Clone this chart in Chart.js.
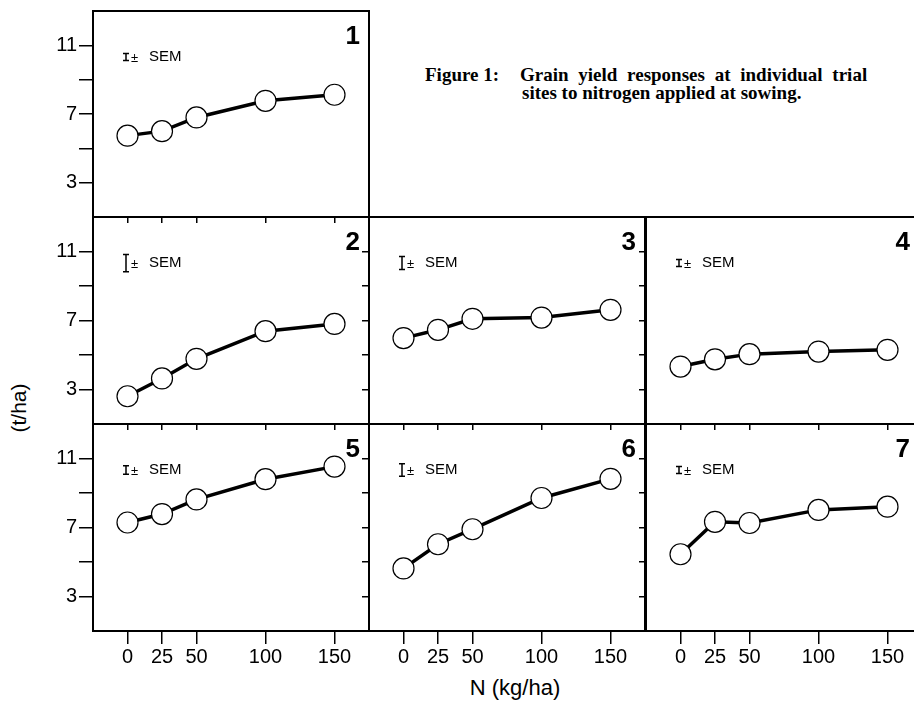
<!DOCTYPE html>
<html>
<head>
<meta charset="utf-8">
<script src="https://cdn.jsdelivr.net/npm/chart.js@4.4.0/dist/chart.umd.min.js"></script>
<style>
  html { margin: 0; padding: 0; background: #fff; overflow: hidden; width: 914px; height: 701px; }
  body { margin: 0; padding: 0; width: 960px; height: 701px; position: relative; font-family: "Liberation Sans", Arial, sans-serif; }
  canvas { position: absolute; }
  .txt { position: absolute; color: #000; white-space: nowrap; }
  .cap { font-family: "Liberation Serif", "Times New Roman", serif; font-weight: bold; font-size: 19px; line-height: 18px; }
</style>
</head>
<body>

<div class="txt cap" style="left:425px; top:66px;">Figure 1:</div>
<div class="txt cap" style="left:520px; top:66px; word-spacing:5px;">Grain yield responses at individual trial</div>
<div class="txt cap" style="left:522px; top:84px;">sites to nitrogen applied at sowing.</div>
<div class="txt" style="left:19px; top:408px; font-size:21px; transform:translate(-50%,-50%) rotate(-90deg);">(t/ha)</div>
<div class="txt" style="left:515px; top:688px; font-size:22px; transform:translate(-50%,-50%);">N (kg/ha)</div>

<script>
/* =========================
   DATA
========================= */

const nRates = [0, 25, 50, 100, 150];

const site1 = [5.74, 6.0, 6.8, 7.77, 8.12];
const site2 = [2.61, 3.64, 4.78, 6.38, 6.8];
const site3 = [5.98, 6.46, 7.1, 7.17, 7.62];
const site4 = [4.33, 4.75, 5.05, 5.2, 5.3];
const site5 = [7.29, 7.78, 8.63, 9.8, 10.53];
const site6 = [4.63, 6.03, 6.9, 8.71, 9.82];
const site7 = [5.45, 7.33, 7.26, 8.02, 8.21];

// half length of the +/- SEM bar, t/ha
const semHalf = [0.2, 0.5, 0.37, 0.2, 0.25, 0.36, 0.2];

const yTickValues = [3, 5, 7, 9, 11];
const yLabelValues = [3, 7, 11];

/* =========================
   LAYOUT
========================= */

const colLeft = [93, 369, 646];
const rowTop = [11, 217, 424];
const rowH = [206, 207, 207];
const panelW = 276;
const pad = 6;

const panels = [
  { num: 1, data: site1, col: 0, row: 0 },
  { num: 2, data: site2, col: 0, row: 1 },
  { num: 3, data: site3, col: 1, row: 1 },
  { num: 4, data: site4, col: 2, row: 1 },
  { num: 5, data: site5, col: 0, row: 2 },
  { num: 6, data: site6, col: 1, row: 2 },
  { num: 7, data: site7, col: 2, row: 2 },
];

/* =========================
   FRAME, NUMBER, SEM BAR
========================= */

const panelDecor = {
  id: "panelDecor",
  beforeDatasetsDraw(chart, args, opts) {
    const ctx = chart.ctx;
    const a = chart.chartArea;
    const y = chart.scales.y;

    ctx.save();
    ctx.strokeStyle = "#000";
    ctx.lineWidth = 2;
    ctx.beginPath();
    ctx.moveTo(a.right, a.top);
    ctx.lineTo(a.left, a.top);
    ctx.lineTo(a.left, a.bottom);
    ctx.lineTo(a.right, a.bottom);
    if (!opts.openRight) ctx.closePath();
    ctx.stroke();

    // panel number
    ctx.fillStyle = "#000";
    ctx.font = "bold 26px 'Liberation Sans', Arial, sans-serif";
    ctx.textAlign = "right";
    ctx.textBaseline = "alphabetic";
    ctx.fillText(String(opts.num), a.right - opts.numInset, a.top + 33);

    // +/- SEM bar drawn on the y scale
    const cx = a.left + 33;
    const cy = a.top + 46;
    const half = Math.abs(y.getPixelForValue(7 + opts.sem) - y.getPixelForValue(7));
    ctx.lineWidth = 1.5;
    ctx.beginPath();
    ctx.moveTo(cx, cy - half);
    ctx.lineTo(cx, cy + half);
    ctx.moveTo(cx - 3, cy - half);
    ctx.lineTo(cx + 3, cy - half);
    ctx.moveTo(cx - 3, cy + half);
    ctx.lineTo(cx + 3, cy + half);
    ctx.stroke();

    ctx.textAlign = "left";
    ctx.textBaseline = "middle";
    ctx.font = "13px 'Liberation Sans', Arial, sans-serif";
    ctx.fillText("\u00b1", a.left + 38, cy + 1);
    ctx.font = "15px 'Liberation Sans', Arial, sans-serif";
    ctx.fillText("SEM", a.left + 56, cy);
    ctx.restore();
  },
};

/* =========================
   CHARTS
========================= */

panels.forEach((p) => {
  const firstCol = p.col === 0;
  const lastCol = p.col === 2;
  const bottomRow = p.row === 2;
  const yW = firstCol ? colLeft[0] : 60;
  const xH = 60;

  const canvas = document.createElement("canvas");
  canvas.width = yW + panelW + pad;
  canvas.height = pad + rowH[p.row] + xH;
  canvas.style.left = colLeft[p.col] - yW + "px";
  canvas.style.top = rowTop[p.row] - pad + "px";
  document.body.appendChild(canvas);

  new Chart(canvas, {
    type: "line",
    data: {
      datasets: [
        {
          data: nRates.map((n, i) => ({ x: n, y: p.data[i] })),
          borderColor: "#000",
          borderWidth: 3.5,
          pointRadius: 10.5,
          pointBackgroundColor: "#fff",
          pointBorderColor: "#000",
          pointBorderWidth: 1.2,
          tension: 0,
          clip: false,
        },
      ],
    },
    options: {
      responsive: false,
      animation: false,
      layout: {
        autoPadding: false,
        padding: { top: pad, right: pad, left: 0, bottom: 0 },
      },
      plugins: {
        legend: { display: false },
        tooltip: { enabled: false },
        panelDecor: {
          num: p.num,
          sem: semHalf[p.num - 1],
          openRight: lastCol,
          numInset: lastCol ? 12 : 9,
        },
      },
      scales: {
        x: {
          type: "linear",
          min: -25,
          max: 175,
          afterBuildTicks: (s) => {
            s.ticks = nRates.map((v) => ({ value: v }));
          },
          afterFit: (s) => {
            s.height = xH;
            s.paddingLeft = 0;
            s.paddingRight = 0;
          },
          border: { display: false },
          grid: {
            drawOnChartArea: false,
            drawTicks: true,
            tickLength: bottomRow ? 13 : 6,
            color: "#000",
            lineWidth: 1.5,
          },
          ticks: {
            autoSkip: false,
            maxRotation: 0,
            padding: 1,
            color: "#000",
            font: { family: "'Liberation Sans', Arial, sans-serif", size: 20 },
            callback: (v) => (bottomRow ? String(v) : ""),
          },
        },
        y: {
          type: "linear",
          min: 1,
          max: 13,
          afterBuildTicks: (s) => {
            s.ticks = yTickValues.map((v) => ({ value: v }));
          },
          afterFit: (s) => {
            s.width = yW;
            s.paddingTop = 0;
            s.paddingBottom = 0;
          },
          border: { display: false },
          grid: {
            drawOnChartArea: false,
            drawTicks: true,
            tickLength: firstCol ? 14 : 7,
            color: "#000",
            lineWidth: 1.5,
          },
          ticks: {
            autoSkip: false,
            padding: 2,
            color: "#000",
            font: { family: "'Liberation Sans', Arial, sans-serif", size: 20 },
            callback: (v) =>
              firstCol && yLabelValues.includes(v) ? String(v) : "",
          },
        },
      },
    },
    plugins: [panelDecor],
  });
});
</script>
</body>
</html>
